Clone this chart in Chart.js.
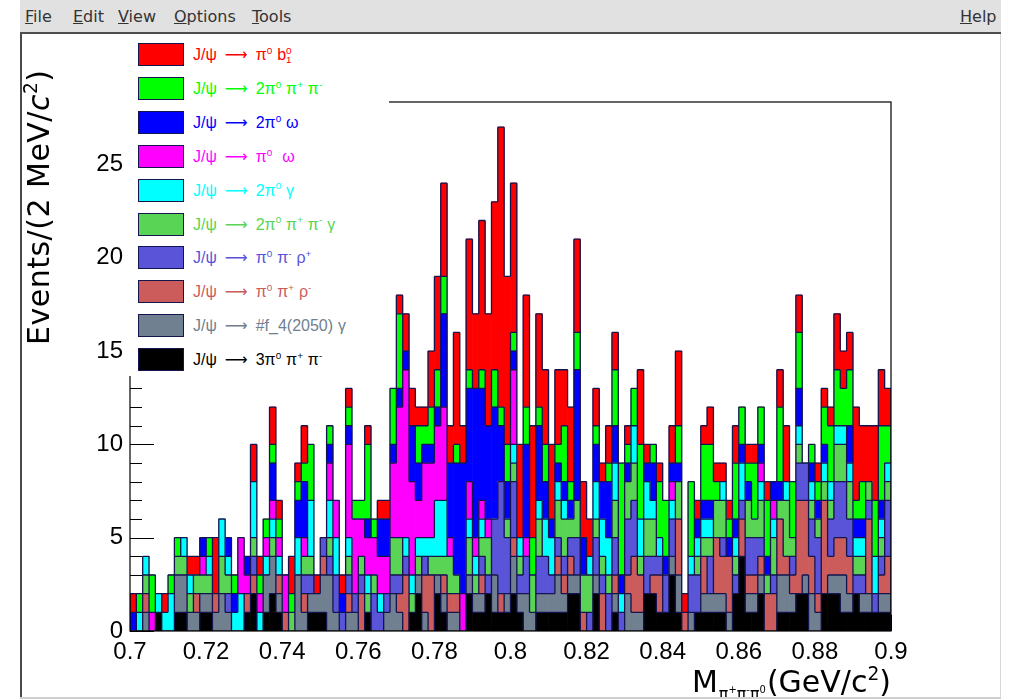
<!DOCTYPE html>
<html>
<head>
<meta charset="utf-8">
<script src="https://cdn.jsdelivr.net/npm/chart.js@4.4.1/dist/chart.umd.min.js"></script>
<style>
  html, body { margin: 0; padding: 0; background: #ffffff; }
  body { width: 1028px; height: 700px; position: relative; overflow: hidden; }
  #c { position: absolute; left: 0; top: 0; }
  #menu { position: absolute; left: 20px; top: 0; width: 981px; height: 32px; background: #e1e1e1;
          border-bottom: 2px solid #4e4e4e; z-index: 5; font-family: "DejaVu Sans", sans-serif; font-size: 16px; color: #333; }
  #menu span { position: absolute; top: 7px; white-space: nowrap; }
  #menu u { text-decoration: underline; }
  .wl { position: absolute; z-index: 5; }
  #legend { position: absolute; left: 127px; top: 36px; width: 262px; height: 340px; background: #fff; z-index: 4; }
  .row { position: absolute; left: 0; height: 24px; width: 262px; }
  .box { position: absolute; left: 11px; top: 0; width: 44px; height: 21px; border: 1.5px solid #14144e; }
  .lt { position: absolute; left: 66px; top: 3px; white-space: nowrap; font-family: "Liberation Sans", Arial, sans-serif;
        font-size: 16px; line-height: 18px; word-spacing: 0.5px; }
  .lt .arr { font-family: "DejaVu Sans", sans-serif; font-weight: normal; margin: 0 3px; }
  .lt sup, .tt sup { font-size: 0.62em; vertical-align: baseline; position: relative; top: -0.62em; }
  .ss { display: inline-flex; flex-direction: column; font-size: 0.62em; line-height: 0.95em; vertical-align: baseline; position: relative; top: -0.6em; }
  .tt { position: absolute; white-space: nowrap; font-family: "DejaVu Sans", sans-serif; color: #000; z-index: 4; }
  #ytitle { left: 0; top: 0; font-size: 30px; line-height: 30px; letter-spacing: 0.5px; transform-origin: 0 0; transform: translate(24px, 345px) rotate(-90deg); }
  #xtitle { right: 137px; top: 667px; font-size: 30px; line-height: 30px; }
  #xtitle .xs { font-size: 16px; position: relative; top: 7px; margin: 0 1px; }
</style>
</head>
<body>
<canvas id="c" width="1028" height="700"></canvas>

<div id="menu">
  <span style="left:5px"><u>F</u>ile</span>
  <span style="left:53px"><u>E</u>dit</span>
  <span style="left:98px"><u>V</u>iew</span>
  <span style="left:154px"><u>O</u>ptions</span>
  <span style="left:232px"><u>T</u>ools</span>
  <span style="left:940px"><u>H</u>elp</span>
</div>
<div class="wl" style="left:20px; top:34px; width:2px; height:664px; background:#4a4a4a;"></div>
<div class="wl" style="left:1000px; top:34px; width:1px; height:664px; background:#d9d9d9;"></div>
<div class="wl" style="left:20px; top:697px; width:981px; height:2px; background:#cfcfcf;"></div>

<div id="legend"></div>
<div id="ytitle" class="tt">Events/(2 MeV/<i>c</i><sup>2</sup>)</div>
<div id="xtitle" class="tt">M<span class="xs">π<sup>+</sup>π<sup>-</sup>π<sup>0</sup></span>(GeV/c<sup>2</sup>)</div>

<script>
// ---------------- data ----------------
const xMin = 0.7;
const xMax = 0.9;
const nBins = 120;
const yMax = 28.35;

const xTickValues = [0.70, 0.72, 0.74, 0.76, 0.78, 0.80, 0.82, 0.84, 0.86, 0.88, 0.90];
const xTickLabels = ['0.7', '0.72', '0.74', '0.76', '0.78', '0.8', '0.82', '0.84', '0.86', '0.88', '0.9'];
const yTickValues = [0, 5, 10, 15, 20, 25];
const yTickLabels = ['0', '5', '10', '15', '20', '25'];

// series, listed from the bottom of the stack to the top
const jpsi3pi0PiPi = [0,0,0,0,1,0,0,1,1,0, 0,1,1,0,0,0,0,0,1,2, 0,1,2,1,0,0,0,0,1,1, 1,0,0,0,0,0,0,1,0,0, 0,0,0,0,1,2,0,0,2,1, 0,0,0,2,1,1,2,1,1,1, 2,1,0,0,1,1,1,1,1,2, 2,0,0,2,0,0,1,0,0,0, 0,2,2,1,1,3,1,0,0,1, 1,1,1,1,0,2,4,1,1,2, 0,0,1,1,1,2,2,0,0,2, 2,2,1,1,2,1,1,1,1,1];
const jpsiF4Gamma  = [0,0,1,0,0,0,0,2,2,1, 1,1,1,1,2,1,0,0,0,0, 0,2,2,1,0,0,3,1,1,1, 2,3,1,0,1,1,0,0,0,0, 1,2,1,0,0,1,1,0,1,1, 1,1,0,1,1,1,0,2,0,1, 2,1,2,1,1,1,1,2,1,1, 1,0,0,1,0,0,1,0,2,1, 1,0,0,0,0,1,2,0,1,0, 1,1,1,1,1,0,0,1,1,1, 0,0,2,2,1,0,1,2,1,0, 1,1,2,1,0,1,1,0,1,1];
const jpsiPi0PipRhom = [0,0,1,0,0,0,0,0,0,0, 1,0,0,1,0,0,0,0,1,1, 0,0,0,1,1,0,0,1,0,0, 1,0,0,0,1,0,2,0,0,0, 0,0,1,3,0,0,2,3,0,1, 1,1,0,0,0,1,0,0,1,0, 1,0,0,0,0,0,0,1,1,1, 0,1,0,0,2,0,1,0,1,3, 2,0,1,2,0,0,3,1,0,0, 2,0,3,2,3,0,2,1,1,1, 2,2,3,1,1,5,4,2,1,5, 1,2,2,2,0,0,4,0,1,2];
const jpsiPi0PimRhop = [0,0,0,0,0,0,0,0,0,0, 0,0,0,0,0,1,0,0,0,1, 0,0,0,0,0,0,0,1,1,0, 1,1,2,1,1,1,1,0,2,1, 1,1,1,1,0,0,1,0,0,0, 0,0,0,0,0,1,1,3,6,3, 3,1,2,0,2,2,1,1,1,1, 2,0,1,2,1,2,2,1,3,3, 0,2,1,1,2,2,0,0,2,2, 0,2,0,1,0,1,1,2,2,1, 0,1,0,0,1,2,2,2,3,0, 2,3,3,2,1,1,1,1,1,3];
const jpsi2pi0PiPiGamma = [0,0,1,0,0,0,0,1,1,1, 1,1,1,0,2,1,0,0,0,1, 0,0,1,0,0,1,0,1,1,0, 0,1,0,0,1,0,1,1,1,0, 0,2,2,0,1,1,0,1,1,1, 2,1,0,2,1,1,2,0,0,1, 1,1,0,2,2,0,0,2,2,1, 2,2,2,1,1,1,2,0,2,2, 1,2,2,0,0,0,2,0,0,1, 1,1,2,2,0,1,0,2,1,2, 1,2,1,3,1,1,0,1,1,1, 1,2,2,2,1,1,1,0,1,1];
const jpsi2pi0Gamma = [0,1,1,0,1,1,2,0,1,1, 0,0,1,0,2,1,1,2,0,3, 1,1,1,1,0,0,2,0,3,0, 0,2,2,0,1,0,0,1,0,1, 0,0,0,1,1,1,1,1,3,3, 0,0,0,1,1,1,0,0,0,0, 1,1,0,0,1,2,2,1,1,0, 0,0,1,2,2,2,2,1,0,2, 2,2,1,1,0,1,0,0,1,1, 1,1,0,1,0,1,2,0,0,1, 0,1,0,1,0,1,0,1,0,1, 1,1,1,1,1,1,0,2,1,1];
const jpsiPi0Omega = [0,0,0,1,0,0,0,0,0,0, 0,1,0,0,0,0,0,3,1,0, 1,1,1,1,2,0,0,1,0,0, 0,2,2,0,5,4,2,2,2,2, 2,4,7,9,5,2,4,4,4,5, 1,0,2,2,1,1,1,0,0,0, 4,0,1,0,0,0,0,0,0,0, 0,0,0,0,0,0,0,0,0,0, 0,0,0,0,0,1,0,0,0,0, 0,0,0,0,0,0,0,0,0,1, 0,1,0,0,0,0,0,0,0,0, 0,0,0,0,0,0,0,0,0,0];
const jpsi2pi0Omega = [1,0,0,0,0,0,0,0,0,0, 0,1,0,0,0,1,1,0,1,0, 0,0,2,0,0,0,2,3,0,0, 0,1,0,1,1,0,0,1,0,2, 2,1,1,1,3,2,1,1,1,5, 4,6,7,5,8,6,5,6,3,2, 1,0,5,0,4,2,1,1,1,1, 7,2,0,2,2,3,2,1,1,0, 0,1,2,0,1,1,1,0,0,1, 1,1,0,0,1,1,1,1,0,1, 1,1,1,0,0,2,0,1,1,1, 0,0,0,2,1,1,0,0,1,0];
const jpsi2pi0PiPi = [0,1,0,2,0,0,1,1,0,0, 0,0,1,0,0,0,1,0,0,0, 1,1,1,1,0,1,1,1,3,0, 0,1,0,0,1,1,1,4,1,0, 0,3,4,0,0,2,1,2,2,2, 0,1,0,1,0,1,0,2,1,2, 1,0,2,2,1,2,0,1,3,1, 2,0,0,1,0,1,3,6,1,2, 4,0,1,3,3,0,2,0,4,0, 3,3,1,0,1,3,2,1,3,2, 3,0,4,0,3,3,0,1,1,2, 3,3,2,3,1,2,0,3,4,2];
const jpsiPi0B1 = [1,0,0,0,0,1,0,0,0,1, 1,0,0,3,0,0,0,0,0,2, 1,0,2,1,0,2,1,2,0,1, 0,0,0,1,1,0,0,1,0,1, 1,0,1,2,2,1,1,3,5,5, 2,6,2,7,4,8,6,9,15,9, 8,5,6,6,5,4,4,4,3,4, 5,3,2,2,1,2,2,0,1,0, 4,1,0,1,0,2,4,1,0,1, 1,2,1,1,1,2,0,1,1,0, 1,0,2,3,0,2,0,0,1,1, 1,3,2,2,5,3,3,4,3,2];

const seriesValues = [jpsi3pi0PiPi, jpsiF4Gamma, jpsiPi0PipRhom, jpsiPi0PimRhop, jpsi2pi0PiPiGamma,
                      jpsi2pi0Gamma, jpsiPi0Omega, jpsi2pi0Omega, jpsi2pi0PiPi, jpsiPi0B1];
const seriesLabels = [
  'J/ψ → 3π<sup>0</sup> π<sup>+</sup> π<sup>-</sup>',
  'J/ψ → #f_4(2050) γ',
  'J/ψ → π<sup>0</sup> π<sup>+</sup> ρ<sup>-</sup>',
  'J/ψ → π<sup>0</sup> π<sup>-</sup> ρ<sup>+</sup>',
  'J/ψ → 2π<sup>0</sup> π<sup>+</sup> π<sup>-</sup> γ',
  'J/ψ → 2π<sup>0</sup> γ',
  'J/ψ → π<sup>0</sup>&nbsp; ω',
  'J/ψ → 2π<sup>0</sup> ω',
  'J/ψ → 2π<sup>0</sup> π<sup>+</sup> π<sup>-</sup>',
  'J/ψ → π<sup>0</sup> b<span class="ss"><span>0</span><span>1</span></span>'
];
const seriesColors = ['#000000', '#708090', '#cc5c5c', '#5954d8', '#59d454',
                      '#00ffff', '#ff00ff', '#0000ff', '#00ff00', '#ff0000'];

// ---------------- derived ----------------
const binWidth = (xMax - xMin) / nBins;
const binCenters = Array.from({length: nBins}, (_, i) => xMin + (i + 0.5) * binWidth);
const binEdges = Array.from({length: nBins + 1}, (_, i) => xMin + i * binWidth);
const lineColor = '#14144e';

// legend (top entry = top of stack)
const legendEl = document.getElementById('legend');
for (let r = 0; r < seriesValues.length; r++) {
  const k = seriesValues.length - 1 - r;
  const row = document.createElement('div');
  row.className = 'row';
  row.style.top = (7 + r * 33.9) + 'px';
  row.innerHTML = '<div class="box" style="background:' + seriesColors[k] + '"></div>' +
                  '<div class="lt" style="color:' + seriesColors[k] + '">' +
                  seriesLabels[k].replace('→', '<span class="arr">⟶</span>') + '</div>';
  legendEl.appendChild(row);
}

const plainLabel = s => s.replace(/<[^>]+>/g, '').replace(/&nbsp;/g, ' ');

const datasets = seriesValues.map((vals, k) => ({
  label: plainLabel(seriesLabels[k]),
  data: vals.map((v, i) => ({x: binCenters[i], y: v})),
  backgroundColor: seriesColors[k],
  borderWidth: 0,
  barPercentage: 1.0,
  categoryPercentage: 1.0
}));

// axis ticks drawn inside the frame (hidden by the bars, like the original)
const innerTicks = {
  id: 'innerTicks',
  beforeDatasetsDraw(chart) {
    const {ctx, chartArea: a, scales: {x, y}} = chart;
    ctx.save();
    ctx.strokeStyle = '#000';
    ctx.lineWidth = 1;
    ctx.beginPath();
    for (let v = 0; v <= Math.floor(yMax); v++) {
      const py = Math.round(y.getPixelForValue(v)) + 0.5;
      const len = yTickValues.includes(v) ? 24 : 12;
      ctx.moveTo(a.left, py); ctx.lineTo(a.left + len, py);
    }
    for (let j = 0; j <= 50; j++) {
      const v = xMin + j * 0.004;
      const px = Math.round(x.getPixelForValue(v)) + 0.5;
      const len = (j % 5 === 0) ? 16 : 8;
      ctx.moveTo(px, a.bottom); ctx.lineTo(px, a.bottom - len);
    }
    ctx.stroke();
    ctx.restore();
  }
};

// ROOT-like outlines of every cumulative level of the stack, then the frame
const outlines = {
  id: 'outlines',
  afterDatasetsDraw(chart) {
    const {ctx, chartArea: a, scales: {x, y}} = chart;
    const cum = [];
    let prev = new Array(nBins).fill(0);
    seriesValues.forEach(vals => { const c = vals.map((v, i) => prev[i] + v); cum.push(c); prev = c; });
    const zeros = new Array(nBins).fill(0);
    ctx.save();
    ctx.beginPath();
    ctx.rect(a.left, a.top, a.right - a.left, a.bottom - a.top);
    ctx.clip();
    ctx.strokeStyle = lineColor;
    ctx.lineWidth = 1.3;
    ctx.beginPath();
    for (let k = 0; k < cum.length; k++) {
      const C = cum[k], P = k > 0 ? cum[k - 1] : zeros;
      for (let i = 0; i < nBins; i++) {
        if (C[i] <= 0) continue;
        const py = y.getPixelForValue(C[i]);
        ctx.moveTo(x.getPixelForValue(binEdges[i]), py);
        ctx.lineTo(x.getPixelForValue(binEdges[i + 1]), py);
      }
      for (let b = 0; b <= nBins; b++) {
        const l = b > 0 ? C[b - 1] : 0, r = b < nBins ? C[b] : 0;
        const lp = b > 0 ? P[b - 1] : 0, rp = b < nBins ? P[b] : 0;
        const hi = Math.max(l, r);
        const lo = Math.max(Math.min(l, r), Math.max(lp, rp));
        if (hi > lo) {
          const px = x.getPixelForValue(binEdges[b]);
          ctx.moveTo(px, y.getPixelForValue(lo));
          ctx.lineTo(px, y.getPixelForValue(hi));
        }
      }
    }
    ctx.stroke();
    ctx.restore();

    ctx.save();
    ctx.strokeStyle = '#000';
    ctx.lineWidth = 1.2;
    ctx.strokeRect(a.left, a.top, a.right - a.left, a.bottom - a.top);
    ctx.restore();
  }
};

new Chart(document.getElementById('c'), {
  type: 'bar',
  data: { datasets },
  options: {
    responsive: false,
    animation: false,
    layout: { padding: { left: 0, right: 137, top: 102, bottom: 0 } },
    plugins: { legend: { display: false }, tooltip: { enabled: false } },
    scales: {
      x: {
        type: 'linear',
        stacked: true,
        offset: false,
        min: xMin, max: xMax,
        grid: { display: false, drawTicks: false, offset: false },
        border: { display: false },
        afterBuildTicks: s => { s.ticks = xTickValues.map(v => ({value: v})); },
        afterFit: s => { s.height = 69; },
        ticks: {
          autoSkip: false, maxRotation: 0, padding: 7, color: '#000',
          font: { family: 'Liberation Sans', size: 24 },
          callback: (v, i) => xTickLabels[i]
        }
      },
      y: {
        type: 'linear',
        stacked: true,
        min: 0, max: yMax,
        grid: { display: false, drawTicks: false },
        border: { display: false },
        afterBuildTicks: s => { s.ticks = yTickValues.map(v => ({value: v})); },
        afterFit: s => { s.width = 130; },
        ticks: {
          autoSkip: false, padding: 7, color: '#000',
          font: { family: 'Liberation Sans', size: 24 },
          callback: (v, i) => yTickLabels[i]
        }
      }
    }
  },
  plugins: [innerTicks, outlines]
});
</script>
</body>
</html>
